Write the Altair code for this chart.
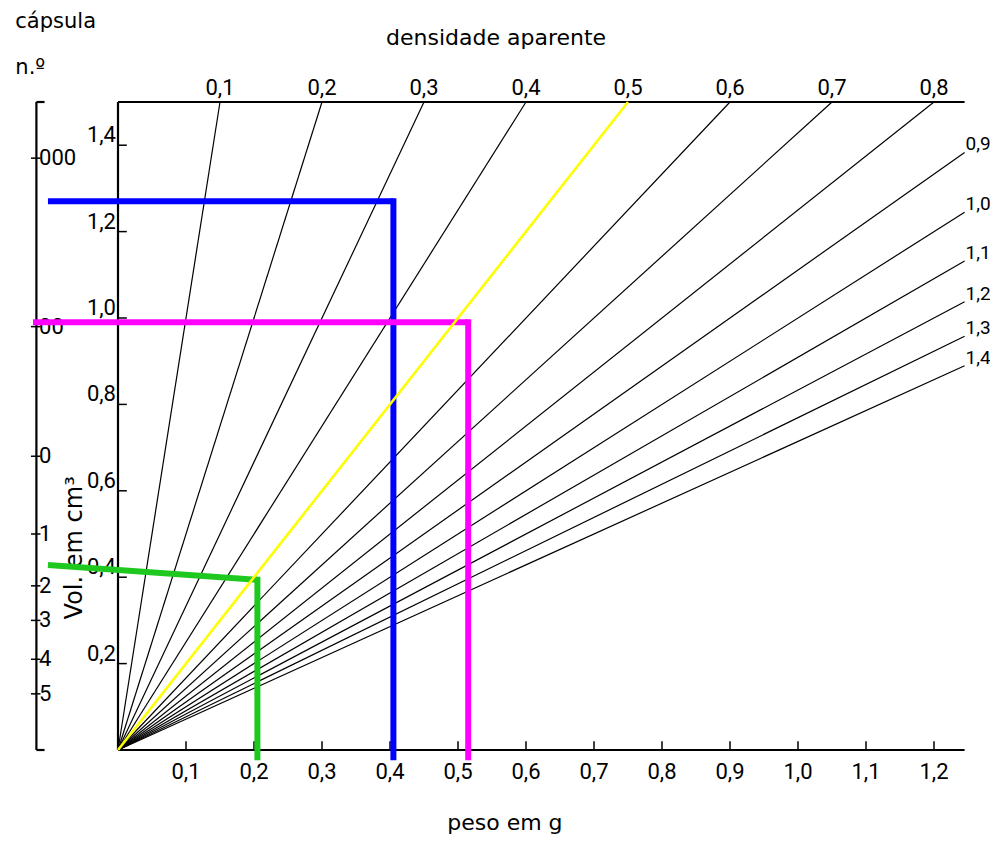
import altair as alt
import pandas as pd

# ---------------- data ----------------
densities = [0.1, 0.2, 0.3, 0.4, 0.5, 0.6, 0.7, 0.8, 0.9, 1.0, 1.1, 1.2, 1.3, 1.4]
density_labels = ["0,1", "0,2", "0,3", "0,4", "0,5", "0,6", "0,7",
                  "0,8", "0,9", "1,0", "1,1", "1,2", "1,3", "1,4"]
highlight_density = 0.5

x_ticks = [0.1, 0.2, 0.3, 0.4, 0.5, 0.6, 0.7, 0.8, 0.9, 1.0, 1.1, 1.2]
x_tick_labels = ["0,1", "0,2", "0,3", "0,4", "0,5", "0,6",
                 "0,7", "0,8", "0,9", "1,0", "1,1", "1,2"]
y_ticks = [0.2, 0.4, 0.6, 0.8, 1.0, 1.2, 1.4]
y_tick_labels = ["0,2", "0,4", "0,6", "0,8", "1,0", "1,2", "1,4"]

capsule_sizes = ["000", "00", "0", "1", "2", "3", "4", "5"]
capsule_volumes = [1.37, 0.98, 0.68, 0.50, 0.38, 0.30, 0.21, 0.13]

V_TOP = 1.5      # top edge of the nomogram (cm3)
W_MAX = 1.245    # right edge of the nomogram (g)
CAPS_W = -0.12   # position of the capsule scale

# worked examples (weight g, volume cm3)
example_names = ["blue", "magenta", "green"]
example_colors = ["#0000ff", "#ff00ff", "#1ec81e"]
example_start_w = [-0.103, -0.125, -0.103]
example_start_v = [1.27, 0.99, 0.428]
example_corner_w = [0.405, 0.515, 0.205]
example_corner_v = [1.27, 0.99, 0.394]
example_bottom_v = -0.024

PX_PER_G = 680.0
PX_PER_CM3 = 432.0
W_PX, H_PX = 982, 828
X0 = -110.0 / PX_PER_G
X1 = X0 + W_PX / PX_PER_G
Y1 = 742.0 / PX_PER_CM3
Y0 = Y1 - H_PX / PX_PER_CM3

FONT_NUM = "Roboto, Liberation Sans, Arial, sans-serif"
FONT_TXT = "DejaVu Sans, Liberation Sans, sans-serif"
NUM_SIZE = 22

# ---------------- tables ----------------
lines = []
for d, lab in zip(densities, density_labels):
    w_end = min(d * V_TOP, W_MAX)
    lines.append(dict(d=d, lab=lab, w=0.0, v=0.0, w2=w_end, v2=w_end / d,
                      top=d * V_TOP <= W_MAX))
lines_df = pd.DataFrame(lines)

frame_df = pd.DataFrame([
    dict(w=0.0, v=0.0, w2=W_MAX, v2=0.0),           # bottom axis
    dict(w=0.0, v=0.0, w2=0.0, v2=V_TOP),           # vertical axis
    dict(w=0.0, v=V_TOP, w2=W_MAX, v2=V_TOP),       # top line
    dict(w=CAPS_W, v=0.0, w2=CAPS_W, v2=V_TOP),     # capsule scale
    dict(w=CAPS_W, v=V_TOP, w2=CAPS_W + 0.012, v2=V_TOP),
    dict(w=CAPS_W, v=0.0, w2=CAPS_W + 0.012, v2=0.0),
])

xt_df = pd.DataFrame(dict(w=x_ticks, lab=x_tick_labels))
xt_df["v"] = 0.0
xt_df["v2"] = 0.02
xt_df["vl"] = -0.028

yt_df = pd.DataFrame(dict(v=y_ticks, lab=y_tick_labels))
yt_df["w"] = 0.0
yt_df["w2"] = 0.013
yt_df["wl"] = -0.003

cap_df = pd.DataFrame(dict(v=capsule_volumes, lab=capsule_sizes))
cap_df["w"] = CAPS_W - 0.008
cap_df["w2"] = CAPS_W + 0.006
cap_df["wl"] = CAPS_W + 0.004

seg = []
for n, c, sw, sv, cw, cv in zip(example_names, example_colors, example_start_w,
                                example_start_v, example_corner_w, example_corner_v):
    seg.append(dict(name=n, color=c, w=sw, v=sv, w2=cw, v2=cv))
    seg.append(dict(name=n, color=c, w=cw, v=cv + 0.007, w2=cw, v2=example_bottom_v))
seg_df = pd.DataFrame(seg)

titles_df = pd.DataFrame([
    dict(w=-0.151, v=1.685, text="cápsula", align="left"),
    dict(w=-0.151, v=1.579, text="n.º", align="left"),
    dict(w=0.556, v=1.648, text="densidade aparente", align="center"),
    dict(w=0.569, v=-0.170, text="peso  em  g", align="center"),
])

xs = alt.Scale(domain=[X0, X1], nice=False, zero=False)
ys = alt.Scale(domain=[Y0, Y1], nice=False, zero=False)

def X(f):
    return alt.X(f, type="quantitative", scale=xs, axis=None)

def Y(f):
    return alt.Y(f, type="quantitative", scale=ys, axis=None)

# ---------------- layers ----------------
density_lines = alt.Chart(lines_df).mark_rule(color="black", strokeWidth=1.2).encode(
    x=X("w"), y=Y("v"), x2="w2", y2="v2")

frame = alt.Chart(frame_df).mark_rule(color="black", strokeWidth=2.2).encode(
    x=X("w"), y=Y("v"), x2="w2", y2="v2")

top_labels = alt.Chart(lines_df).transform_filter("datum.top").mark_text(
    font=FONT_NUM, fontSize=NUM_SIZE, baseline="bottom", align="center", dy=-2, color="black"
).encode(x=X("w2"), y=Y("v2"), text="lab:N")

right_labels = alt.Chart(lines_df).transform_filter("!datum.top").mark_text(
    font=FONT_NUM, fontSize=19, baseline="bottom", align="left", dx=1, dy=2, color="black"
).encode(x=X("w2"), y=Y("v2"), text="lab:N")

x_tick_marks = alt.Chart(xt_df).mark_rule(color="black", strokeWidth=1.5).encode(
    x=X("w"), y=Y("v"), y2="v2")
x_tick_text = alt.Chart(xt_df).mark_text(
    font=FONT_NUM, fontSize=NUM_SIZE, baseline="top", align="center", color="black"
).encode(x=X("w"), y=Y("vl"), text="lab:N")

y_tick_marks = alt.Chart(yt_df).mark_rule(color="black", strokeWidth=1.5).encode(
    x=X("w"), x2="w2", y=Y("v"))
y_tick_text = alt.Chart(yt_df).mark_text(
    font=FONT_NUM, fontSize=NUM_SIZE, baseline="bottom", align="right", dy=2, color="black"
).encode(x=X("wl"), y=Y("v"), text="lab:N")

cap_tick_marks = alt.Chart(cap_df).mark_rule(color="black", strokeWidth=1.5).encode(
    x=X("w"), x2="w2", y=Y("v"))
cap_text = alt.Chart(cap_df).mark_text(
    font=FONT_NUM, fontSize=NUM_SIZE, baseline="middle", align="left", color="black"
).encode(x=X("wl"), y=Y("v"), text="lab:N")

examples = alt.Chart(seg_df).mark_rule(strokeWidth=6, strokeCap="butt").encode(
    x=X("w"), y=Y("v"), x2="w2", y2="v2",
    color=alt.Color("color:N", scale=None), detail="name:N")

yellow = alt.Chart(lines_df).transform_filter(
    f"abs(datum.d - {highlight_density}) < 0.001"
).mark_rule(color="#ffff00", strokeWidth=2.6).encode(
    x=X("w"), y=Y("v"), x2="w2", y2="v2")

titles_left = alt.Chart(titles_df[titles_df["align"] == "left"]).mark_text(
    font=FONT_TXT, fontSize=21, baseline="middle", align="left", color="black"
).encode(x=X("w"), y=Y("v"), text="text:N")
titles_center = alt.Chart(titles_df[titles_df["align"] == "center"]).mark_text(
    font=FONT_TXT, fontSize=22, baseline="middle", align="center", color="black"
).encode(x=X("w"), y=Y("v"), text="text:N")

ylab_df = pd.DataFrame([dict(w=-0.063, v=0.468, text="Vol.  em  cm³")])
ylab = alt.Chart(ylab_df).mark_text(
    font=FONT_TXT, fontSize=24, baseline="middle", align="center", angle=270, color="black"
).encode(x=X("w"), y=Y("v"), text="text:N")

chart = alt.layer(
    density_lines, frame, x_tick_marks, y_tick_marks, cap_tick_marks,
    top_labels, right_labels, x_tick_text, y_tick_text, cap_text,
    ylab, titles_left, titles_center, examples, yellow,
).properties(
    width=W_PX, height=H_PX,
    autosize=alt.AutoSizeParams(type="none"),
    padding=0,
    background="white",
).configure_view(stroke=None)

chart.save("out.html", embed_options={"renderer": "svg", "actions": False})
